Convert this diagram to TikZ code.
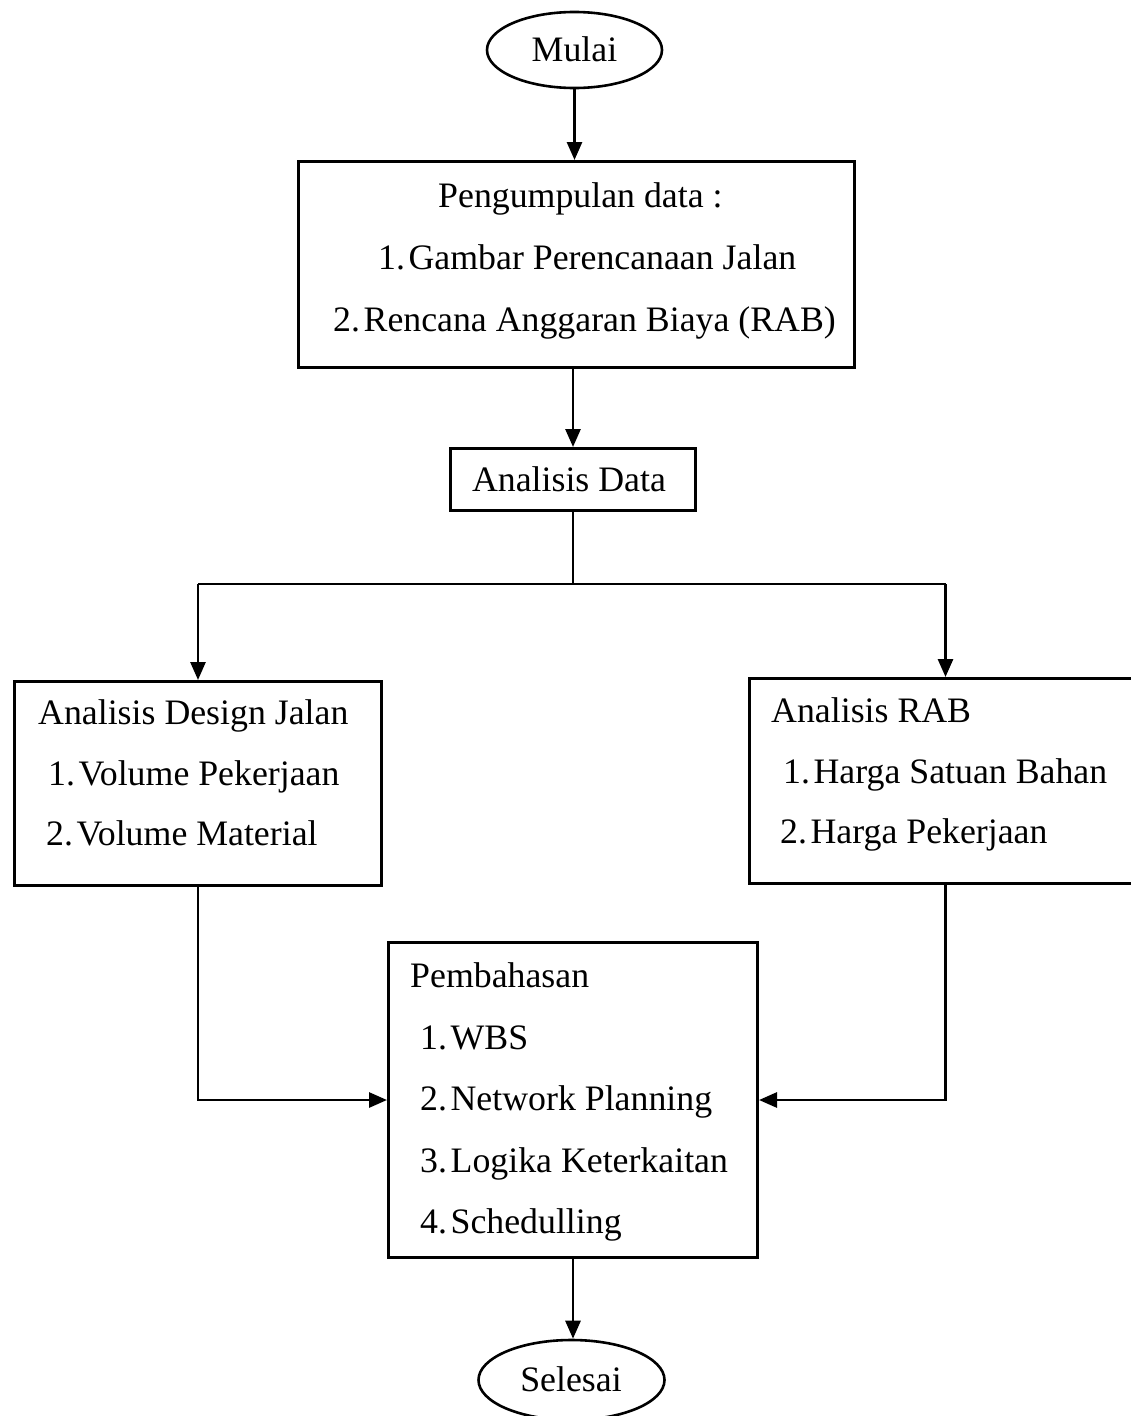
\documentclass[tikz,border=0pt]{standalone}
\usepackage{fontspec}
\setmainfont{Liberation Serif}
\usetikzlibrary{arrows.meta,shapes.geometric}

\tikzset{
  box/.style={draw, line width=3pt, rectangle, inner sep=0pt, anchor=north west},
  terminal/.style={draw, line width=2.6pt, ellipse, inner sep=0pt},
  txt/.style={anchor=base west, inner sep=0pt, font=\fontsize{35.8}{42}\selectfont},
  ctxt/.style={anchor=base, inner sep=0pt, font=\fontsize{35.8}{42}\selectfont},
  flow/.style={line width=2.8pt, -{Triangle[length=18pt,width=15pt]}},
  wire/.style={line width=2.8pt},
}
\newcommand{\itm}[1]{#1.\hspace{0.1em}}

\begin{document}
\begin{tikzpicture}[x=1pt,y=-1pt]
  \useasboundingbox (0,0) rectangle (1131,1416);

  % terminals
  \node[terminal, minimum width=175pt, minimum height=76pt] (mulai) at (574.5,50) {};
  \node[ctxt] (tmulai) at (574.5,61) {Mulai};
  \node[terminal, minimum width=186pt, minimum height=80pt] (selesai) at (571.5,1380) {};
  \node[ctxt] (tselesai) at (571,1391) {Selesai};

  % process boxes
  \node[box, minimum width=556pt, minimum height=206pt] (data) at (297,160) {};
  \node[box, minimum width=245pt, minimum height=62pt] (analisis) at (449,447) {};
  \node[box, minimum width=367pt, minimum height=204pt] (design) at (13,680) {};
  \node[box, minimum width=392pt, minimum height=205pt] (rab) at (748,677) {};
  \node[box, minimum width=369pt, minimum height=315pt] (bahas) at (387,941) {};

  % box texts
  \node[txt] (d1) at (438,207) {Pengumpulan data :};
  \node[txt] (d2) at (378,269) {\itm{1}Gambar Perencanaan Jalan};
  \node[txt] (d3) at (333,331) {\itm{2}Rencana Anggaran Biaya (RAB)};

  \node[ctxt] (a1) at (569,491) {Analisis Data};

  \node[txt] (l1) at (38,724) {Analisis Design Jalan};
  \node[txt] (l2) at (48,785) {\itm{1}Volume Pekerjaan};
  \node[txt] (l3) at (46,845) {\itm{2}Volume Material};

  \node[txt] (r1) at (771,722) {Analisis RAB};
  \node[txt] (r2) at (783,783) {\itm{1}Harga Satuan Bahan};
  \node[txt] (r3) at (780,843) {\itm{2}Harga Pekerjaan};

  \node[txt] (p1) at (410,987) {Pembahasan};
  \node[txt] (p2) at (420,1049) {\itm{1}WBS};
  \node[txt] (p3) at (420,1110) {\itm{2}Network Planning};
  \node[txt] (p4) at (420,1172) {\itm{3}Logika Keterkaitan};
  \node[txt] (p5) at (420,1233) {\itm{4}Schedulling};

  % connectors
  \draw[flow] (mulai.south) -- (mulai.south |- data.north);
  \draw[flow] (analisis.north |- data.south) -- (analisis.north);
  \coordinate (split) at (571.5,584);
  \draw[wire] (analisis.south) -- (analisis.south |- split);
  \draw[wire] (design.north |- split) -- (rab.north |- split);
  \draw[flow] (design.north |- split) -- (design.north);
  \draw[flow] (rab.north |- split) -- (rab.north);
  \draw[flow] (design.south) |- (bahas.west);
  \draw[flow] (rab.south) |- (bahas.east);
  \draw[flow] (bahas.south) -- (bahas.south |- selesai.north);
\end{tikzpicture}
\end{document}
